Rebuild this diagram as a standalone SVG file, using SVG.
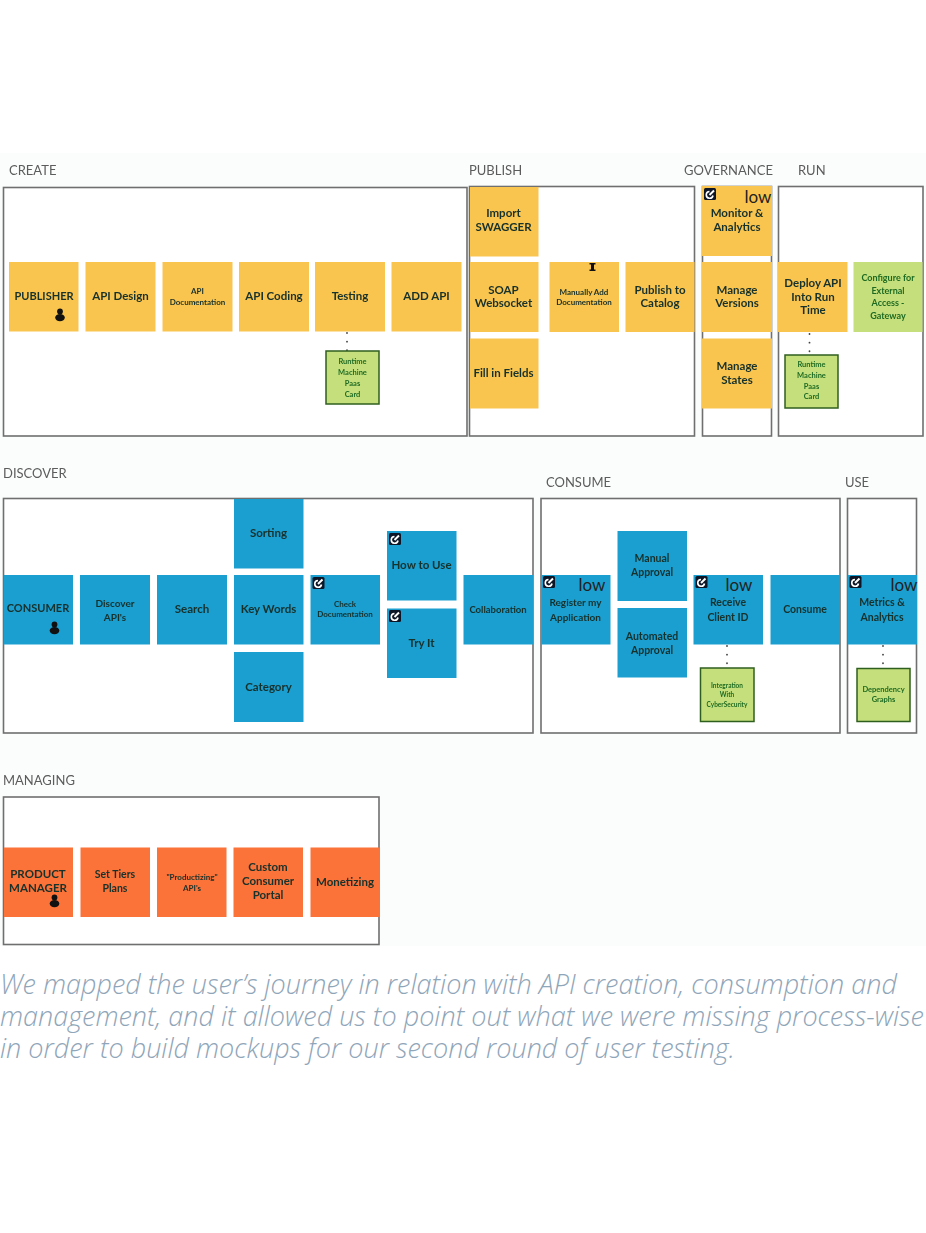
<svg xmlns="http://www.w3.org/2000/svg" width="926" height="1233" viewBox="0 0 926 1233">
<style>
text{font-family:"Lato","Liberation Sans",sans-serif;text-anchor:middle}
.frame{fill:#fff;stroke:#6f6f6f;stroke-width:1.6}
.sec{font-size:13px;fill:#5c5c5c;text-anchor:start;filter:url(#soft)}
.y{fill:#fac54f}.b{fill:#1a9fd0}.o{fill:#fb7339}.g{fill:#c5df7c}
.gb{fill:#c5df7c;stroke:#2f5f1e;stroke-width:1.5}
.t{font-weight:700;font-size:11.5px;fill:#17302a;filter:url(#soft)}
.s{font-weight:700;font-size:8px;fill:#17302a;filter:url(#soft)}
.gt{font-weight:700;font-size:7.5px;fill:#1f6b22;filter:url(#soft)}
.low{font-size:17px;fill:#222;font-weight:400}
.cap{font-family:"Open Sans",sans-serif;font-style:italic;font-weight:300;font-size:27px;fill:#8fa5b8;text-anchor:start}
.dots{fill:none;stroke:#444;stroke-width:1.8;stroke-linecap:round;stroke-dasharray:.1 8.5}
</style>
<defs>
<filter id="soft" x="-5%" y="-20%" width="110%" height="140%"><feGaussianBlur stdDeviation="0.3"/></filter>
<g id="person"><circle cx="0" cy="-3.6" r="2.9" fill="#111"/><ellipse cx="0" cy="2.6" rx="4.8" ry="3.6" fill="#111"/></g>
<g id="icon"><rect width="12" height="12" rx="1.5" fill="#0c1626"/><path d="M5.500 3.500A3.400 3.400 0 1 0 9 7.500" fill="none" stroke="#fff" stroke-width="1.6"/><path d="M5.500 7L10 2.500" stroke="#fff" stroke-width="2"/></g>
</defs>
<rect width="926" height="1233" fill="#fff"/>
<rect id="panel" y="153" width="926" height="793" fill="#fbfcfc"/>

<g id="frames">
<rect class="frame" x="3.5" y="187.5" width="463.5" height="248.5"/>
<rect class="frame" x="469.5" y="186.5" width="225" height="249.5"/>
<rect class="frame" x="702.5" y="186.5" width="69" height="249.5"/>
<rect class="frame" x="778.5" y="186.5" width="144.5" height="249.5"/>
<rect class="frame" x="3.5" y="498.5" width="529.5" height="234.5"/>
<rect class="frame" x="541" y="498.5" width="299" height="234.5"/>
<rect class="frame" x="847.5" y="498.5" width="69" height="234.5"/>
<rect class="frame" x="3.5" y="797" width="375.5" height="147.5"/>
</g>

<g id="labels">
<text class="sec" x="9" y="175">CREATE</text>
<text class="sec" x="469" y="175">PUBLISH</text>
<text class="sec" x="684" y="175">GOVERNANCE</text>
<text class="sec" x="798" y="175">RUN</text>
<text class="sec" x="3" y="478">DISCOVER</text>
<text class="sec" x="546" y="487">CONSUME</text>
<text class="sec" x="845" y="487">USE</text>
<text class="sec" x="3" y="785">MANAGING</text>
</g>

<g id="connectors">
<path class="dots" d="M347 333V352"/>
<path class="dots" d="M809.5 334V356"/>
<path class="dots" d="M727 646V669"/>
<path class="dots" d="M883 646V669"/>
</g>

<g id="publisher"><rect class="y" x="9" y="262" width="69.5" height="69.5"/><text class="t" x="44" y="300" style="font-size:11px">PUBLISHER</text><use href="#person" x="60" y="315"/></g>
<g id="api-design"><rect class="y" x="85.5" y="262" width="70" height="69.5"/><text class="t" x="120.5" y="300">API Design</text></g>
<g id="api-documentation"><rect class="y" x="162.5" y="262" width="70" height="69.5"/><text class="s" x="197.5" y="294">API</text><text class="s" x="197.5" y="305">Documentation</text></g>
<g id="api-coding"><rect class="y" x="239" y="262" width="70" height="69.5"/><text class="t" x="274" y="300">API Coding</text></g>
<g id="testing"><rect class="y" x="315" y="262" width="70" height="69.5"/><text class="t" x="350" y="300">Testing</text></g>
<g id="add-api"><rect class="y" x="391.5" y="262" width="70" height="69.5"/><text class="t" x="426.5" y="300">ADD API</text></g>
<g id="runtime-1"><rect class="gb" x="326" y="351" width="53" height="53"/><text class="gt" x="352.5" y="364">Runtime</text><text class="gt" x="352.5" y="375">Machine</text><text class="gt" x="352.5" y="386">Paas</text><text class="gt" x="352.5" y="397">Card</text></g>

<g id="import-swagger"><rect class="y" x="470" y="187" width="68.5" height="69.5"/><text class="t" x="503.5" y="217">Import</text><text class="t" x="503.5" y="231">SWAGGER</text></g>
<g id="soap"><rect class="y" x="470" y="262" width="68.5" height="70"/><text class="t" x="503.5" y="294">SOAP</text><text class="t" x="503.5" y="307">Websocket</text></g>
<g id="fill-fields"><rect class="y" x="470" y="338.5" width="68.5" height="70"/><text class="t" x="503.5" y="377">Fill in Fields</text></g>
<g id="manually-add"><rect class="y" x="549.5" y="262" width="69.5" height="70"/><rect x="591" y="264" width="3" height="6" fill="#111"/><rect x="589.5" y="263" width="6" height="1.5" fill="#111"/><rect x="589.5" y="269.5" width="6" height="1.5" fill="#111"/><text class="s" x="584" y="295">Manually Add</text><text class="s" x="584" y="305">Documentation</text></g>
<g id="publish-catalog"><rect class="y" x="625.5" y="262" width="69" height="70"/><text class="t" x="660" y="294">Publish to</text><text class="t" x="660" y="307">Catalog</text></g>

<g id="monitor"><rect class="y" x="702" y="186" width="70" height="70"/><use href="#icon" x="704" y="188"/><text class="low" x="758" y="203">low</text><text class="t" x="737" y="217">Monitor &amp;</text><text class="t" x="737" y="231">Analytics</text></g>
<g id="manage-versions"><rect class="y" x="702" y="262" width="70" height="70"/><text class="t" x="737" y="294">Manage</text><text class="t" x="737" y="307">Versions</text></g>
<g id="manage-states"><rect class="y" x="702" y="338.5" width="70" height="70"/><text class="t" x="737" y="370">Manage</text><text class="t" x="737" y="384">States</text></g>

<g id="deploy"><rect class="y" x="778" y="262" width="69.5" height="70"/><text class="t" x="813" y="287">Deploy API</text><text class="t" x="813" y="301">Into Run</text><text class="t" x="813" y="314">Time</text></g>
<g id="configure"><rect class="g" x="853.5" y="262" width="69" height="70"/><text class="gt" x="888" y="281" style="font-size:9px">Configure for</text><text class="gt" x="888" y="294" style="font-size:9px">External</text><text class="gt" x="888" y="306" style="font-size:9px">Access -</text><text class="gt" x="888" y="319" style="font-size:9px">Gateway</text></g>
<g id="runtime-2"><rect class="gb" x="785" y="355" width="53" height="53"/><text class="gt" x="811.5" y="367">Runtime</text><text class="gt" x="811.5" y="378">Machine</text><text class="gt" x="811.5" y="389">Paas</text><text class="gt" x="811.5" y="399">Card</text></g>

<g id="consumer"><rect class="b" x="4" y="575" width="69" height="69.5"/><text class="t" x="38" y="612" style="font-size:11px">CONSUMER</text><use href="#person" x="54.5" y="628"/></g>
<g id="discover-apis"><rect class="b" x="80" y="575" width="70" height="69.5"/><text class="t" x="115" y="607" style="font-size:10px">Discover</text><text class="t" x="115" y="621" style="font-size:10px">API's</text></g>
<g id="search"><rect class="b" x="157" y="575" width="70" height="69.5"/><text class="t" x="192" y="613">Search</text></g>
<g id="key-words"><rect class="b" x="234" y="575" width="69.5" height="69.5"/><text class="t" x="268.5" y="613">Key Words</text></g>
<g id="sorting"><rect class="b" x="234" y="499" width="69.5" height="69.5"/><text class="t" x="268.5" y="537">Sorting</text></g>
<g id="category"><rect class="b" x="234" y="652" width="69.5" height="70"/><text class="t" x="268.5" y="691">Category</text></g>
<g id="check-doc"><rect class="b" x="310.5" y="575" width="69.5" height="69.5"/><use href="#icon" x="312.5" y="577"/><text class="s" x="345" y="607">Check</text><text class="s" x="345" y="617">Documentation</text></g>
<g id="how-to-use"><rect class="b" x="387" y="531" width="69.5" height="69.5"/><use href="#icon" x="389" y="533"/><text class="t" x="421.5" y="569">How to Use</text></g>
<g id="try-it"><rect class="b" x="387" y="608.5" width="69.5" height="69.5"/><use href="#icon" x="389" y="610"/><text class="t" x="421.5" y="647">Try It</text></g>
<g id="collaboration"><rect class="b" x="463.5" y="575" width="69.5" height="69.5"/><text class="t" x="498" y="612.5" style="font-size:9.5px">Collaboration</text></g>

<g id="register"><rect class="b" x="541.5" y="575" width="69" height="69.5"/><use href="#icon" x="543" y="576"/><text class="low" x="592" y="591">low</text><text class="t" x="575.5" y="606" style="font-size:10px">Register my</text><text class="t" x="575.5" y="620.500" style="font-size:10px">Application</text></g>
<g id="manual-approval"><rect class="b" x="617.5" y="531" width="69.5" height="70"/><text class="t" x="652" y="562" style="font-size:10.5px">Manual</text><text class="t" x="652" y="576" style="font-size:10.5px">Approval</text></g>
<g id="automated-approval"><rect class="b" x="617.5" y="608" width="69.5" height="69.5"/><text class="t" x="652" y="640" style="font-size:10.5px">Automated</text><text class="t" x="652" y="654" style="font-size:10.5px">Approval</text></g>
<g id="receive-client"><rect class="b" x="693.5" y="575" width="69.5" height="69.5"/><use href="#icon" x="695.5" y="576"/><text class="low" x="739" y="591">low</text><text class="t" x="728" y="606" style="font-size:10.5px">Receive</text><text class="t" x="728" y="620.500" style="font-size:10.5px">Client ID</text></g>
<g id="consume"><rect class="b" x="770.5" y="575" width="69.5" height="69.5"/><text class="t" x="805" y="613" style="font-size:10.5px">Consume</text></g>
<g id="integration"><rect class="gb" x="700.5" y="668" width="53.5" height="53.5"/><text class="gt" x="727" y="688" style="font-size:6.5px">Integration</text><text class="gt" x="727" y="697" style="font-size:6.5px">With</text><text class="gt" x="727" y="707" style="font-size:6.5px">CyberSecurity</text></g>

<g id="metrics"><rect class="b" x="848" y="575" width="69" height="69.5"/><use href="#icon" x="849.5" y="576"/><text class="low" x="904" y="591">low</text><text class="t" x="882" y="606" style="font-size:10.5px">Metrics &amp;</text><text class="t" x="882" y="620.500" style="font-size:10.5px">Analytics</text></g>
<g id="dependency"><rect class="gb" x="857" y="668.5" width="53" height="53"/><text class="gt" x="883.5" y="692">Dependency</text><text class="gt" x="883.5" y="702">Graphs</text></g>

<g id="product-manager"><rect class="o" x="4" y="847.5" width="69" height="69.5"/><text class="t" x="38" y="878">PRODUCT</text><text class="t" x="38" y="892">MANAGER</text><use href="#person" x="54.5" y="901"/></g>
<g id="tier-plans"><rect class="o" x="80.5" y="847.5" width="69.5" height="69.5"/><text class="t" x="115" y="878" style="font-size:10.5px">Set Tiers</text><text class="t" x="115" y="892" style="font-size:10.5px">Plans</text></g>
<g id="productizing"><rect class="o" x="157" y="847.5" width="69.5" height="69.5"/><text class="s" x="192" y="880">"Productizing"</text><text class="s" x="192" y="891">API's</text></g>
<g id="custom-portal"><rect class="o" x="233.5" y="847.5" width="69.5" height="69.5"/><text class="t" x="268" y="871">Custom</text><text class="t" x="268" y="885">Consumer</text><text class="t" x="268" y="899">Portal</text></g>
<g id="monetizing"><rect class="o" x="310.5" y="847.5" width="69.5" height="69.5"/><text class="t" x="345" y="886">Monetizing</text></g>

<g id="caption">
<text class="cap" x="0" y="994">We mapped the user’s journey in relation with API creation, consumption and</text>
<text class="cap" x="0" y="1026">management, and it allowed us to point out what we were missing process-wise</text>
<text class="cap" x="0" y="1058">in order to build mockups for our second round of user testing.</text>
</g>
</svg>
